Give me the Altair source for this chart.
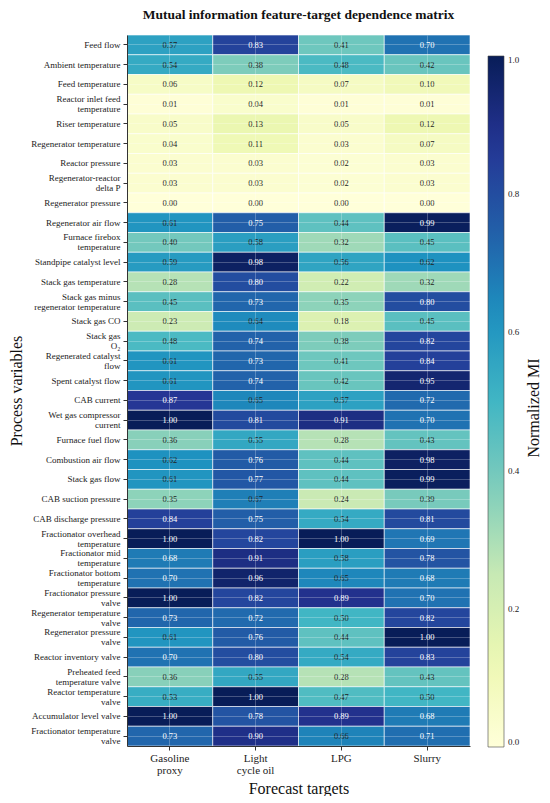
import altair as alt
import pandas as pd

rows = [
    "Feed flow", "Ambient temperature", "Feed temperature", "Reactor inlet feed|temperature",
    "Riser temperature", "Regenerator temperature", "Reactor pressure",
    "Regenerator-reactor|delta P", "Regenerator pressure", "Regenerator air flow",
    "Furnace firebox|temperature", "Standpipe catalyst level", "Stack gas temperature",
    "Stack gas minus|regenerator temperature", "Stack gas CO", "Stack gas|O₂",
    "Regenerated catalyst|flow", "Spent catalyst flow", "CAB current",
    "Wet gas compressor|current", "Furnace fuel flow", "Combustion air flow",
    "Stack gas flow", "CAB suction pressure", "CAB discharge pressure",
    "Fractionator overhead|temperature", "Fractionator mid|temperature",
    "Fractionator bottom|temperature", "Fractionator pressure|valve",
    "Regenerator temperature|valve", "Regenerator pressure|valve",
    "Reactor inventory valve", "Preheated feed|temperature valve",
    "Reactor temperature|valve", "Accumulator level valve",
    "Fractionator temperature|valve",
]
cols = ["Gasoline|proxy", "Light|cycle oil", "LPG", "Slurry"]

gasoline = [0.57, 0.54, 0.06, 0.01, 0.05, 0.04, 0.03, 0.03, 0.00, 0.61, 0.40, 0.59,
            0.28, 0.45, 0.23, 0.48, 0.61, 0.61, 0.87, 1.00, 0.36, 0.62, 0.61, 0.35,
            0.84, 1.00, 0.68, 0.70, 1.00, 0.73, 0.61, 0.70, 0.36, 0.53, 1.00, 0.73]
light_cycle = [0.83, 0.38, 0.12, 0.04, 0.13, 0.11, 0.03, 0.03, 0.00, 0.75, 0.58, 0.98,
               0.80, 0.73, 0.64, 0.74, 0.73, 0.74, 0.65, 0.81, 0.55, 0.76, 0.77, 0.67,
               0.75, 0.82, 0.91, 0.96, 0.82, 0.72, 0.76, 0.80, 0.55, 1.00, 0.78, 0.90]
lpg = [0.41, 0.48, 0.07, 0.01, 0.05, 0.03, 0.02, 0.02, 0.00, 0.44, 0.32, 0.56,
       0.22, 0.35, 0.18, 0.38, 0.41, 0.42, 0.57, 0.91, 0.28, 0.44, 0.44, 0.24,
       0.54, 1.00, 0.58, 0.65, 0.89, 0.50, 0.44, 0.54, 0.28, 0.47, 0.89, 0.66]
slurry = [0.70, 0.42, 0.10, 0.01, 0.12, 0.07, 0.03, 0.03, 0.00, 0.99, 0.45, 0.62,
          0.32, 0.80, 0.45, 0.82, 0.84, 0.95, 0.72, 0.70, 0.43, 0.98, 0.99, 0.39,
          0.81, 0.69, 0.78, 0.68, 0.70, 0.82, 1.00, 0.83, 0.43, 0.50, 0.68, 0.71]

# YlGnBu (ColorBrewer 9-class) stops
ylgnbu = ["#ffffd9", "#edf8b1", "#c7e9b4", "#7fcdbb", "#41b6c4",
          "#1d91c0", "#225ea8", "#253494", "#081d58"]
stops = [i / 8 for i in range(9)]

series = [gasoline, light_cycle, lpg, slurry]
records = []
for c, vals in zip(cols, series):
    for r, v in zip(rows, vals):
        records.append({"row": r, "col": c, "v": v})
df = pd.DataFrame(records)

FONT = "Liberation Serif"

x_enc = alt.X("col:N", sort=cols, title="Forecast targets",
              axis=alt.Axis(labelExpr="split(datum.label, '|')", labelAngle=0,
                            labelFontSize=11, titleFontSize=16, titleFont=FONT,
                            labelFont=FONT, labelColor="#222", titleColor="#111",
                            titleFontWeight="normal", labelLineHeight=12,
                            titlePadding=5, tickSize=4, tickColor="#333",
                            domainColor="#333", grid=True, gridColor="white",
                            gridOpacity=0.25, bandPosition=0.5, zindex=1,
                            labelPadding=2))
y_enc = alt.Y("row:N", sort=rows, title="Process variables",
              axis=alt.Axis(labelExpr="split(datum.label, '|')",
                            labelFontSize=9, titleFontSize=16, titleFont=FONT,
                            labelFont=FONT, labelColor="#222", titleColor="#111",
                            titleFontWeight="normal", labelLineHeight=10,
                            labelOffset={"condition": {"test": "indexof(datum.value, '|') >= 0",
                                                       "value": -5}, "value": 0},
                            labelLimit=250, titlePadding=6, tickSize=4,
                            tickColor="#333", domainColor="#333", grid=True,
                            gridColor="white", gridOpacity=0.25, bandPosition=0.5,
                            zindex=1, labelPadding=3))

base = alt.Chart(df).encode(x=x_enc, y=y_enc)

rects = base.mark_rect(stroke="white", strokeWidth=0.6).encode(
    color=alt.Color("v:Q",
                    scale=alt.Scale(domain=stops, range=ylgnbu, interpolate="rgb"),
                    legend=alt.Legend(title=None, orient="none",
                                      legendX=361, legendY=21,
                                      direction="vertical",
                                      gradientLength=691, gradientThickness=16,
                                      values=[0, 0.2, 0.4, 0.6, 0.8, 1.0],
                                      format=".1f", labelFont=FONT,
                                      labelFontSize=9, labelColor="#222",
                                      labelOffset=4,
                                      gradientStrokeColor="#444",
                                      gradientStrokeWidth=0.6))
)

texts = base.mark_text(font=FONT, fontSize=8.5).encode(
    text=alt.Text("v:Q", format=".2f"),
    color=alt.condition(alt.datum.v >= 0.675, alt.value("white"), alt.value("#222")),
)

cbar_title = alt.Chart(pd.DataFrame({"t": ["Normalized MI"]})).mark_text(
    angle=270, font=FONT, fontSize=16, color="#111", baseline="middle", align="center"
).encode(text="t:N", x=alt.value(407), y=alt.value(373))

chart = (rects + texts + cbar_title).properties(
    width=343, height=711, padding=0,
    title=alt.TitleParams("Mutual information feature-target dependence matrix",
                          font=FONT, fontSize=13.5, fontWeight="bold", anchor="middle",
                          offset=13, color="#111"),
).configure_view(strokeWidth=0)

chart.save("out.html", embed_options={"renderer": "svg", "actions": False})
